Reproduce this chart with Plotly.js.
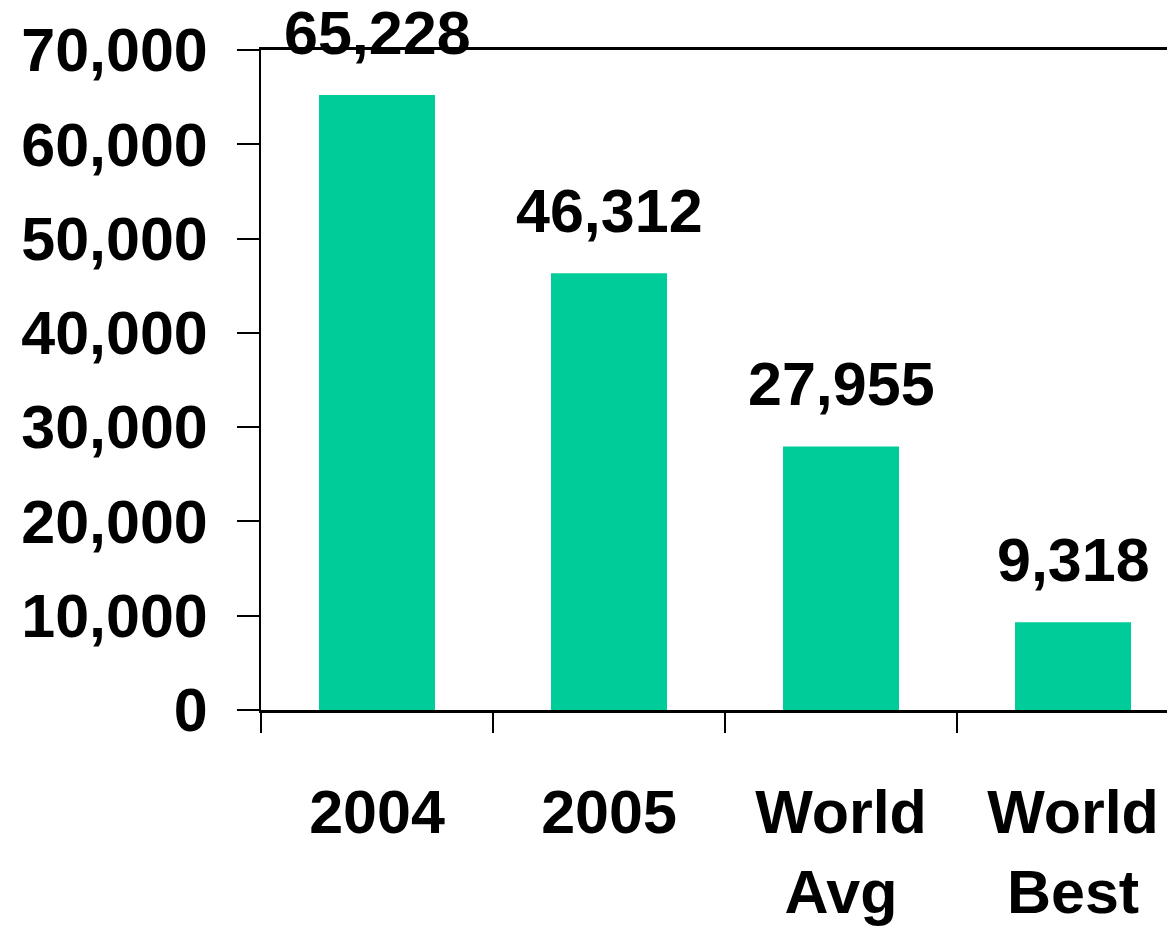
<!DOCTYPE html>
<html>
<head>
<meta charset="utf-8">
<script src="https://cdn.plot.ly/plotly-3.0.1.min.js"></script>
<style>html,body{margin:0;padding:0;background:#fff;}#chart{width:1167px;height:926px;}</style>
</head>
<body>
<div id="chart"></div>
<script>
const categories = ["2004", "2005", "World<br>Avg", "World<br>Best"];
const values = [65228, 46312, 27955, 9318];
const yTickVals = [0, 10000, 20000, 30000, 40000, 50000, 60000, 70000];

const font = {family: "Liberation Sans, Arial, sans-serif", size: 61, color: "#000", weight: "bold"};

const trace = {
  type: "bar",
  x: categories,
  y: values,
  width: 0.5,
  marker: {color: "#00CC99", line: {width: 0}},
  hoverinfo: "none"
};

const annotations = categories.map((c, i) => ({
  x: i, y: values[i], xref: "x", yref: "y",
  text: values[i].toLocaleString("en-US"),
  showarrow: false, yanchor: "bottom", yshift: 26,
  font: font
}));

const layout = {
  width: 1167, height: 926,
  margin: {l: 261, r: 0, t: 50, b: 216, pad: 0},
  paper_bgcolor: "#fff", plot_bgcolor: "#fff",
  showlegend: false,
  font: font,
  xaxis: {
    type: "category",
    range: [-0.5, 3.405],
    showline: true, linecolor: "#000", linewidth: 3,
    mirror: true,
    ticks: "outside", tickson: "boundaries", ticklen: 20, tickwidth: 2, tickcolor: "#000",
    ticklabelstandoff: 47,
    tickfont: font,
    showgrid: false, zeroline: false, fixedrange: true
  },
  yaxis: {
    range: [0, 70000],
    tickvals: yTickVals,
    tickformat: ",d",
    showline: true, linecolor: "#000", linewidth: 2,
    ticks: "outside", ticklen: 22, tickwidth: 2, tickcolor: "#000",
    ticklabelstandoff: 17,
    tickfont: font,
    showgrid: false, zeroline: false, fixedrange: true
  },
  annotations: annotations
};

Plotly.newPlot("chart", [trace], layout, {displayModeBar: false, staticPlot: true});
</script>
</body>
</html>
